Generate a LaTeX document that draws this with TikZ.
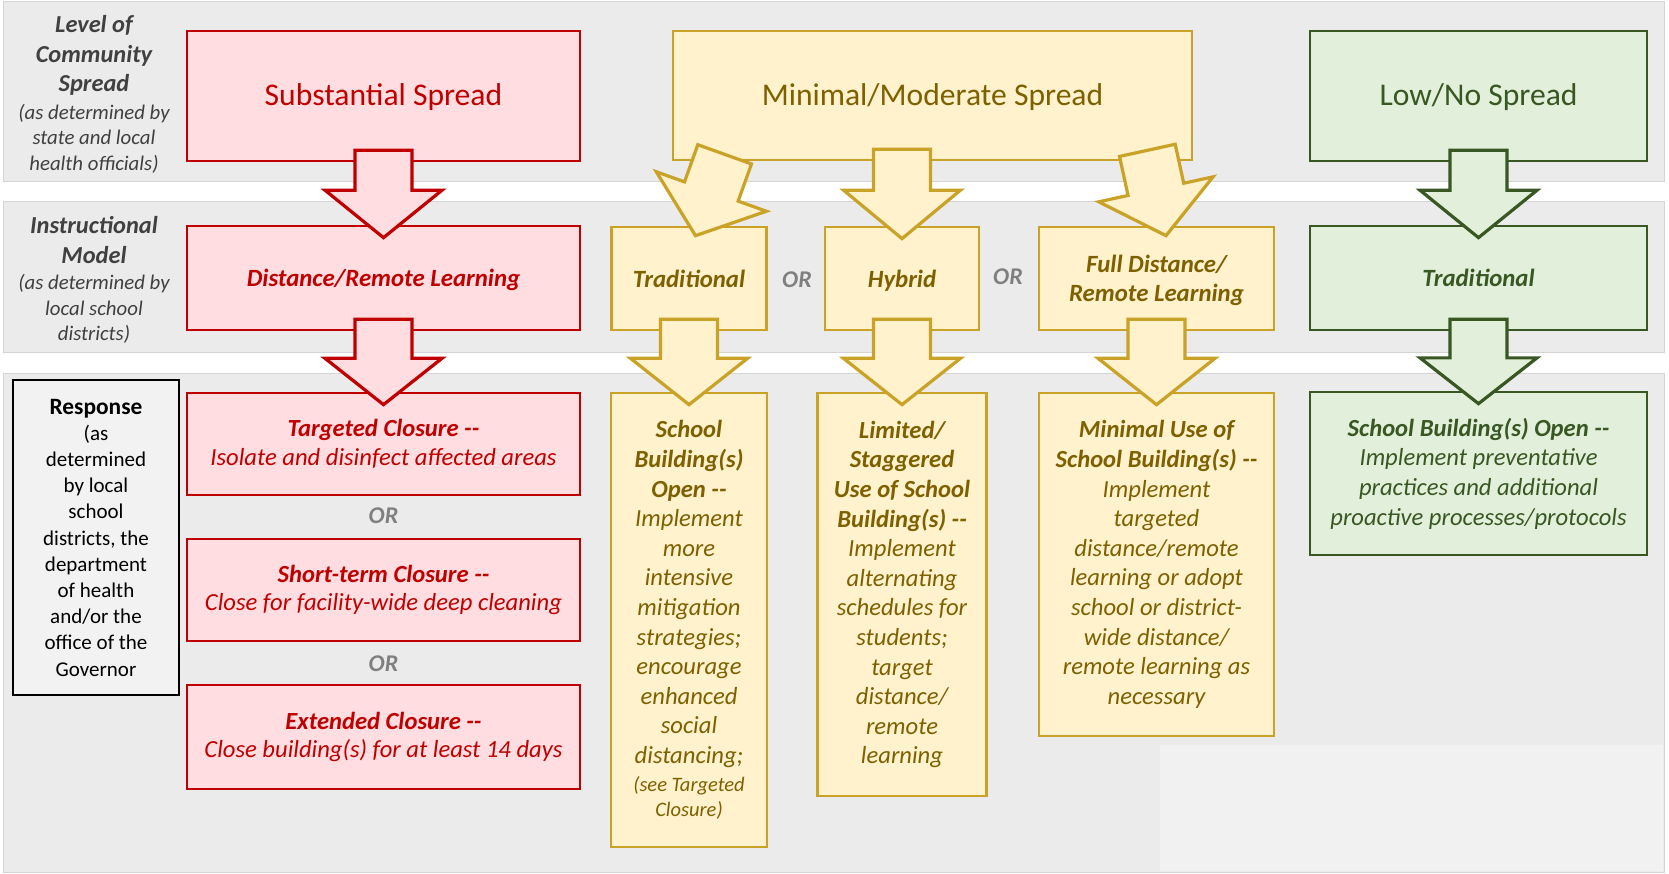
\documentclass[tikz,border=0pt]{standalone}
\usepackage{fontspec}
\setmainfont{Carlito}
\usetikzlibrary{calc}

\definecolor{bandgray}{HTML}{EBEBEB}
\definecolor{bandline}{HTML}{D4D4D4}
\definecolor{patchgray}{HTML}{F1F1F1}
\definecolor{respfill}{HTML}{F2F2F2}
\definecolor{redline}{HTML}{C00000}
\definecolor{redfill}{HTML}{FFDDE0}
\definecolor{goldline}{HTML}{C9A227}
\definecolor{goldfill}{HTML}{FFF2CC}
\definecolor{goldtext}{HTML}{7F6000}
\definecolor{greenline}{HTML}{385723}
\definecolor{greenfill}{HTML}{E2EFDA}
\definecolor{ortext}{HTML}{7F7F7F}
\definecolor{labeltext}{HTML}{404040}

\newcommand{\seenote}{\fontsize{20.5}{25.5}\selectfont}

% block arrow: style, back point, tip point
\newcommand{\blockarrow}[3]{%
  \coordinate (ba-s) at (#2);
  \coordinate (ba-t) at (#3);
  \coordinate (ba-h) at ($(ba-s)!0.457!(ba-t)$);
  \draw[#1] ($(ba-s)!28.5pt!90:(ba-t)$) -- ($(ba-h)!28.5pt!90:(ba-t)$)
    -- ($(ba-h)!58.5pt!90:(ba-t)$) -- (ba-t)
    -- ($(ba-h)!58.5pt!-90:(ba-t)$) -- ($(ba-h)!28.5pt!-90:(ba-t)$)
    -- ($(ba-s)!28.5pt!-90:(ba-t)$) -- cycle;
}

\tikzset{every picture/.style={line width=0.75pt}}
\tikzset{
  band/.style={draw=bandline, fill=bandgray, line width=1pt},
  box/.style={line width=2.7pt, align=center, inner sep=0pt},
  redbox/.style={box, draw=redline, fill=redfill, text=redline},
  goldbox/.style={box, draw=goldline, fill=goldfill, text=goldtext},
  greenbox/.style={box, draw=greenline, fill=greenfill, text=greenline},
  respbox/.style={box, draw=black, fill=respfill, line width=2pt, font=\fontsize{21}{26.2}\selectfont},
  redarrow/.style={draw=redline, fill=redfill, line width=3.2pt, line join=miter},
  goldarrow/.style={draw=goldline, fill=goldfill, line width=3.2pt, line join=miter},
  greenarrow/.style={draw=greenline, fill=greenfill, line width=3.2pt, line join=miter},
  titlefont/.style={font=\fontsize{31.6}{38}\selectfont, text depth=2pt},
  headfont/.style={font=\fontsize{24.8}{28.7}\selectfont\bfseries\itshape, text depth=0pt},
  redbody/.style={font=\fontsize{24.6}{28.7}\selectfont\itshape},
  goldbody/.style={font=\fontsize{24.6}{29.6}\selectfont\itshape},
  lbltitle/.style={align=center, text=labeltext, font=\fontsize{24.4}{29.8}\selectfont\bfseries\itshape},
  lblsub/.style={align=center, text=labeltext, font=\fontsize{20.8}{25.5}\selectfont\itshape},
  ortag/.style={text=ortext, font=\fontsize{24}{28}\selectfont\bfseries\itshape},
}

\begin{document}
\begin{tikzpicture}[x=1pt,y=1pt,yscale=-1,xscale=1]
	\useasboundingbox (0,0) rectangle (1669,874);

	%Shape: Rectangle (bands)
	\draw[band] (3,2) rectangle (1664,182);
	\draw[band] (3,202) rectangle (1664,352);
	\draw[band] (3,373) rectangle (1664,872);
	\fill[patchgray] (1160,745) rectangle (1663,871);

	% Text Node
	\node[lbltitle] (leveltitle) at (94,55.5) {Level of\\Community\\Spread};
	% Text Node
	\node[lblsub] (levelsub) at (94,138.5) {(as determined by\\state and local\\health officials)};
	% Text Node
	\node[lbltitle] (instrtitle) at (94,240) {Instructional\\Model};
	% Text Node
	\node[lblsub] (instrsub) at (94,309) {(as determined by\\local school\\districts)};
	% Text Node
	\node[respbox, minimum width=166pt, minimum height=315pt] (resp) at (96,537.5) {{\fontsize{23.4}{26}\selectfont\bfseries Response}\\(as\\determined\\by local\\school\\districts, the\\department\\of health\\and/or the\\office of the\\Governor};

	%Shape: Rectangle (substantial)
	\node[redbox, titlefont, minimum width=393pt, minimum height=130pt] (subst) at (383.5,96) {Substantial Spread};
	\node[redbox, headfont, minimum width=393pt, minimum height=104pt] (dist) at (383.5,278) {Distance/Remote Learning};
	\node[redbox, redbody, minimum width=393pt, minimum height=102pt] (targ) at (383.5,444) {{\bfseries Targeted Closure -{}-}\\Isolate and disinfect affected areas};
	\node[redbox, redbody, minimum width=393pt, minimum height=102pt] (short) at (383.5,590) {{\bfseries Short-term Closure -{}-}\\Close for facility-wide deep cleaning};
	\node[redbox, redbody, minimum width=393pt, minimum height=104pt] (ext) at (383.5,737) {{\bfseries Extended Closure -{}-}\\Close building(s) for at least 14 days};
	\node[ortag] (or1) at (383.5,516) {OR};
	\node[ortag] (or2) at (383.5,664) {OR};

	%Shape: Rectangle (minimal/moderate)
	\node[goldbox, titlefont, minimum width=519pt, minimum height=129pt] (minimal) at (932.5,95.5) {Minimal/Moderate Spread};
	\node[goldbox, headfont, minimum width=155pt, minimum height=103pt] (trad) at (689,278.5) {Traditional};
	\node[goldbox, headfont, minimum width=154pt, minimum height=103pt] (hybrid) at (902,278.5) {Hybrid};
	\node[goldbox, headfont, minimum width=235pt, minimum height=103pt] (fulld) at (1156.5,278.5) {Full Distance/\\Remote Learning};
	\node[ortag] (or3) at (797,280) {OR};
	\node[ortag] (or4) at (1008,277) {OR};
	\node[goldbox, goldbody, minimum width=156pt, minimum height=454pt] (open) at (689,620) {{\bfseries School}\\{\bfseries Building(s)}\\{\bfseries Open -{}-}\\Implement\\more\\intensive\\mitigation\\strategies;\\encourage\\enhanced\\social\\distancing;\\[-2pt]{\seenote (see Targeted}\\[-4pt]{\seenote Closure)}};
	\node[goldbox, goldbody, minimum width=169pt, minimum height=403pt] (limited) at (902,594.5) {{\bfseries Limited/}\\{\bfseries Staggered}\\{\bfseries Use of School}\\{\bfseries Building(s) -{}-}\\Implement\\alternating\\schedules for\\students;\\target\\distance/\\remote\\learning};
	\node[goldbox, goldbody, minimum width=235pt, minimum height=343pt] (minuse) at (1156.5,564.5) {{\bfseries Minimal Use of}\\{\bfseries School Building(s) -{}-}\\Implement\\targeted\\distance/remote\\learning or adopt\\school or district-\\wide distance/\\remote learning as\\necessary};

	%Shape: Rectangle (low/no)
	\node[greenbox, titlefont, minimum width=337pt, minimum height=130pt] (lowno) at (1478.5,96) {Low/No Spread};
	\node[greenbox, headfont, minimum width=337pt, minimum height=104pt] (gtrad) at (1478.5,278) {Traditional};
	\node[greenbox, goldbody, minimum width=337pt, minimum height=163pt] (gopen) at (1478.5,473.5) {{\bfseries School Building(s) Open -{}-}\\Implement preventative\\practices and additional\\proactive processes/protocols};

	%Block arrows
	\blockarrow{redarrow}{[yshift=-12pt]subst.south}{[yshift=13pt]dist.north}
	\blockarrow{redarrow}{[yshift=-12pt]dist.south}{[yshift=13pt]targ.north}
	\blockarrow{goldarrow}{[xshift=53pt,yshift=-7pt]minimal.south west}{[xshift=6.5pt,yshift=10pt]trad.north}
	\coordinate (midback) at (minimal.south -| hybrid.north);
	\blockarrow{goldarrow}{[yshift=-12pt]midback}{[yshift=13pt]hybrid.north}
	\blockarrow{goldarrow}{[xshift=-46pt,yshift=-11pt]minimal.south east}{[xshift=9.5pt,yshift=10pt]fulld.north}
	\blockarrow{goldarrow}{[yshift=-12pt]trad.south}{[yshift=13pt]open.north}
	\blockarrow{goldarrow}{[yshift=-12pt]hybrid.south}{[yshift=13pt]limited.north}
	\blockarrow{goldarrow}{[yshift=-12pt]fulld.south}{[yshift=13pt]minuse.north}
	\blockarrow{greenarrow}{[yshift=-12pt]lowno.south}{[yshift=13pt]gtrad.north}
	\blockarrow{greenarrow}{[yshift=-12pt]gtrad.south}{[yshift=13pt]gopen.north}

\end{tikzpicture}
\end{document}
